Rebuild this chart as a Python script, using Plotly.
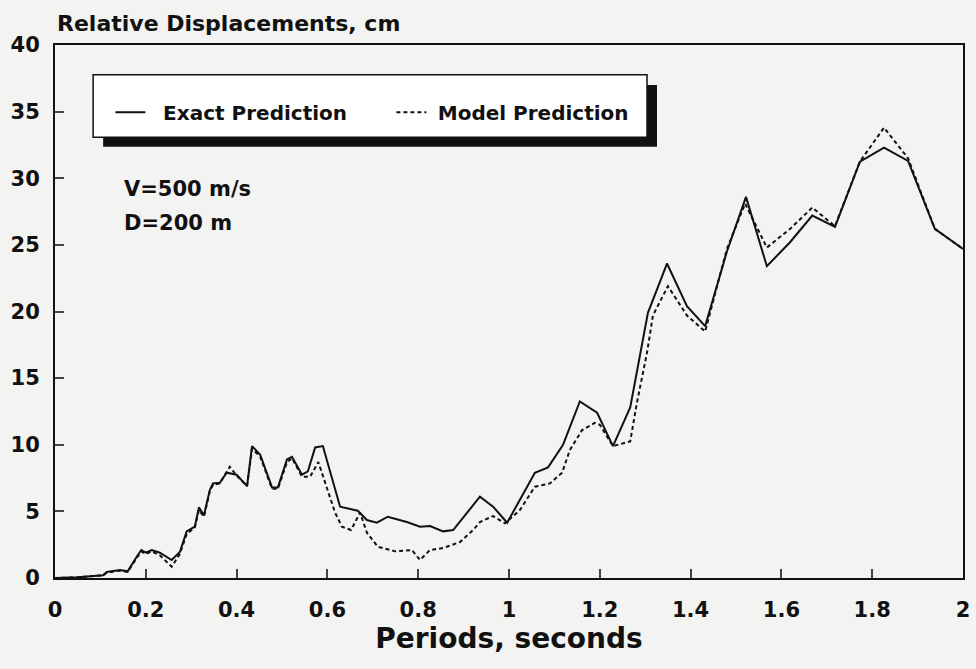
import plotly.graph_objects as go

# values
exact_x = [0, 0.05, 0.106, 0.114, 0.143, 0.16, 0.18, 0.19, 0.2, 0.213, 0.231, 0.257, 0.275, 0.29,
           0.308, 0.317, 0.328, 0.341, 0.348, 0.363, 0.378, 0.40, 0.423, 0.434, 0.452, 0.478, 0.491,
           0.511, 0.522, 0.544, 0.557, 0.573, 0.590, 0.628, 0.667, 0.687, 0.709, 0.733, 0.775, 0.804,
           0.826, 0.855, 0.877, 0.936, 0.965, 0.996, 1.057, 1.086, 1.119, 1.156, 1.194, 1.229, 1.267,
           1.306, 1.348, 1.392, 1.432, 1.48, 1.522, 1.568, 1.619, 1.668, 1.718, 1.773, 1.826, 1.879,
           1.938, 2.0]
exact_y = [0, 0.05, 0.2, 0.45, 0.6, 0.5, 1.6, 2.1, 1.9, 2.1, 1.9, 1.35, 1.95, 3.5,
           3.85, 5.3, 4.7, 6.6, 7.1, 7.15, 7.9, 7.75, 6.9, 9.9, 9.25, 6.8, 6.8,
           8.9, 9.1, 7.75, 8.0, 9.8, 9.9, 5.35, 5.05, 4.35, 4.15, 4.6, 4.2, 3.85,
           3.9, 3.5, 3.6, 6.1, 5.35, 4.15, 7.9, 8.3, 10.0, 13.25, 12.4, 9.9, 12.8,
           19.9, 23.6, 20.4, 18.9, 24.5, 28.6, 23.4, 25.2, 27.2, 26.35, 31.25, 32.3, 31.3,
           26.2, 24.7]

model_x = [0, 0.05, 0.106, 0.114, 0.143, 0.16, 0.18, 0.19, 0.2, 0.213, 0.231, 0.257, 0.275, 0.29,
           0.308, 0.317, 0.328, 0.341, 0.348, 0.363, 0.385, 0.40, 0.423, 0.434, 0.452, 0.478, 0.491,
           0.511, 0.522, 0.544, 0.562, 0.58, 0.617, 0.632, 0.652, 0.672, 0.687, 0.711, 0.749, 0.786,
           0.804, 0.826, 0.855, 0.892, 0.921, 0.936, 0.965, 0.991, 1.024, 1.057, 1.09, 1.117, 1.134,
           1.161, 1.189, 1.2, 1.229, 1.267, 1.282, 1.304, 1.317, 1.35, 1.392, 1.432, 1.48, 1.52,
           1.568, 1.619, 1.668, 1.718, 1.773, 1.826, 1.879, 1.938, 2.0]
model_y = [0, 0.05, 0.2, 0.4, 0.55, 0.45, 1.5, 2.0, 1.8, 2.0, 1.7, 0.85, 1.8, 3.3,
           3.8, 5.1, 4.6, 6.5, 7.0, 7.1, 8.35, 7.7, 6.9, 9.7, 9.1, 6.7, 6.7,
           8.7, 9.0, 7.6, 7.6, 8.7, 4.9, 3.85, 3.6, 4.9, 3.4, 2.35, 2.0, 2.1,
           1.35, 2.1, 2.25, 2.7, 3.6, 4.2, 4.65, 4.1, 5.1, 6.85, 7.1, 7.9, 9.6,
           11.1, 11.65, 11.5, 9.9, 10.25, 13.2, 16.9, 19.7, 21.9, 19.7, 18.5, 24.7, 28.1,
           24.8, 26.2, 27.8, 26.4, 31.25, 33.8, 31.5, 26.2, 24.7]

x_ticks = [0, 0.2, 0.4, 0.6, 0.8, 1, 1.2, 1.4, 1.6, 1.8, 2]
x_labels = ["0", "0.2", "0.4", "0.6", "0.8", "1", "1.2", "1.4", "1.6", "1.8", "2"]
y_ticks = [0, 5, 10, 15, 20, 25, 30, 35, 40]

font = "DejaVu Sans, sans-serif"
bg = "#f3f3f1"
ink = "#111"
nb = "\u00a0"

fig = go.Figure()
fig.add_trace(go.Scatter(x=exact_x, y=exact_y, mode="lines", name=nb * 2 + "<b>Exact Prediction</b>",
                         line=dict(color=ink, width=2)))
fig.add_trace(go.Scatter(x=model_x, y=model_y, mode="lines", name=nb + "<b>Model Prediction</b>",
                         line=dict(color=ink, width=2, dash="4px,3px")))

# legend box with a drop shadow
fig.add_shape(type="rect", xref="paper", yref="paper", x0=0.053, x1=0.663, y0=0.809, y1=0.925,
              fillcolor=ink, line_width=0, layer="below")
fig.add_shape(type="rect", xref="paper", yref="paper", x0=0.042, x1=0.652, y0=0.827, y1=0.944,
              fillcolor="white", line=dict(color=ink, width=1.5), layer="below")

fig.add_annotation(x=0.074, y=0.730, xref="paper", yref="paper", xanchor="left", yanchor="middle",
                   showarrow=False, text="<b>V=500 m/s</b>", font=dict(size=21, color=ink, family=font))
fig.add_annotation(x=0.074, y=0.666, xref="paper", yref="paper", xanchor="left", yanchor="middle",
                   showarrow=False, text="<b>D=200 m</b>", font=dict(size=21, color=ink, family=font))
fig.add_annotation(x=0, y=1.041, xref="paper", yref="paper", xanchor="left", yanchor="middle",
                   showarrow=False, text="<b>Relative Displacements, cm</b>",
                   font=dict(size=22, color=ink, family=font))

fig.update_layout(
    width=976, height=669,
    margin=dict(l=55, r=13, t=45, b=91),
    paper_bgcolor=bg, plot_bgcolor=bg,
    font=dict(family=font, color=ink),
    showlegend=True,
    legend=dict(orientation="h", x=0.061, y=0.874, xanchor="left", yanchor="middle",
                bgcolor="rgba(0,0,0,0)", borderwidth=0, entrywidth=236,
                font=dict(size=20, family=font, color=ink)),
)
fig.update_xaxes(range=[0, 2], tickvals=x_ticks, ticktext=["<b>%s</b>" % t for t in x_labels],
                 ticks="inside", ticklen=9, tickwidth=1.5, ticklabelstandoff=12, automargin=False,
                 showline=True, linecolor=ink, linewidth=2, mirror=True,
                 showgrid=False, zeroline=False,
                 tickfont=dict(size=21, family=font), title=dict(text="<b>Periods, seconds</b>",
                 font=dict(size=28, family=font), standoff=4))
fig.update_yaxes(range=[0, 40], tickvals=y_ticks, ticktext=["<b>%d</b>" % t for t in y_ticks],
                 ticks="inside", ticklen=9, tickwidth=1.5, ticklabelstandoff=9, automargin=False,
                 showline=True, linecolor=ink, linewidth=2, mirror=True,
                 showgrid=False, zeroline=False, tickfont=dict(size=21, family=font))

# drop the default page margin so the figure fills the window exactly
fig.write_html("out.html", config={"displayModeBar": False},
               post_script="document.body.style.margin='0';document.body.style.overflow='hidden';")
